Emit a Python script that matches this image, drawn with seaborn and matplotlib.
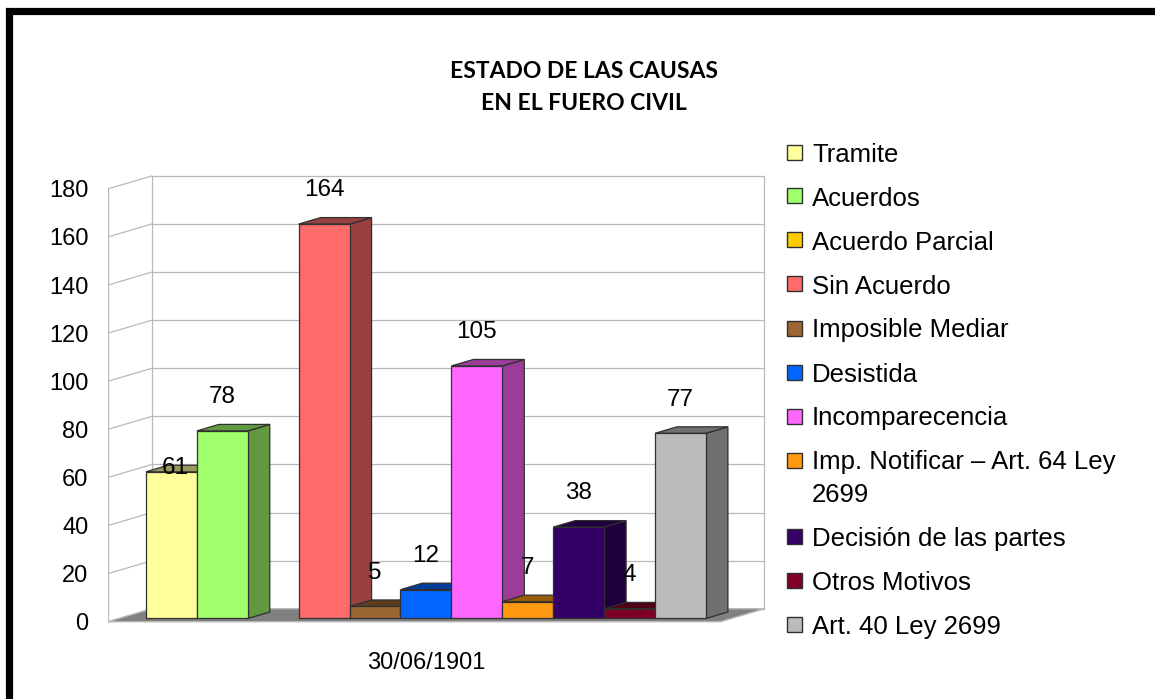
import matplotlib
matplotlib.use("Agg")
import matplotlib.pyplot as plt
from matplotlib.patches import Polygon, Rectangle
import matplotlib.colors as mcolors
import numpy as np
import seaborn as sns

##--- data
categories = ["Tramite", "Acuerdos", "Acuerdo Parcial", "Sin Acuerdo", "Imposible Mediar",
              "Desistida", "Incomparecencia", "Imp. Notificar \u2013 Art. 64 Ley\n2699",
              "Decisión de las partes", "Otros Motivos", "Art. 40 Ley 2699"]
values = [61, 78, 0, 164, 5, 12, 105, 7, 38, 4, 77]
colors = ["#FFFF99", "#A0FF6A", "#FFCC00", "#FF6B6B", "#9C6633", "#0066FF",
          "#FF66FF", "#FF9A10", "#330066", "#800025", "#BBBBBB"]
yticks = list(range(0, 181, 20))
date_label = "30/06/1901"
title_lines = ["ESTADO DE LAS CAUSAS", "EN EL FUERO CIVIL"]
##---

W, H = 1155, 699
sns.set_theme(style="white")
plt.rcParams["font.family"] = ["Liberation Sans", "DejaVu Sans"]
plt.rcParams["text.color"] = "black"

fig = plt.figure(figsize=(W / 100, H / 100), dpi=100)
ax = fig.add_axes([0.09333, 0.1083, 0.57515, 0.6606])

# depth of one bar (data units) and the box around the bars
DX, DY = 0.432, 2.70
XL, XR = -1.03, 11.0
grid_c = "#B8B8B8"
edge_c = "#303030"

def shade(c, f=0.6):
    r, g, b = mcolors.to_rgb(c)
    return (r * f, g * f, b * f)

# front faces (drawn first so ax.patches holds only the bars)
sns.barplot(x=categories, y=values, hue=categories, palette=colors, width=1.0,
            legend=False, edgecolor=edge_c, linewidth=0.9, saturation=1, ax=ax, zorder=3)
for p in ax.patches:
    if p.get_height() == 0:
        p.set_linewidth(0)

# floor
fx0, fy0 = -0.5 * DX, -0.5 * DY
bx0, by0 = 1.5 * DX, 1.5 * DY
floor = Polygon([(XL + fx0, fy0), (XR + fx0, fy0), (XR + bx0, by0), (XL + bx0, by0)],
                closed=True, facecolor="#808080", edgecolor=grid_c, lw=1, zorder=0.5)
ax.add_patch(floor)

# walls: gridlines on left wall and back wall
for t in yticks:
    ax.plot([XL + fx0, XL + bx0], [t + fy0, t + by0], color=grid_c, lw=0.9, zorder=0.4)
    ax.plot([XL + bx0, XR + bx0], [t + by0, t + by0], color=grid_c, lw=0.9, zorder=0.4)
top = yticks[-1]
ax.plot([XL + fx0, XL + fx0], [fy0, top + fy0], color=grid_c, lw=0.9, zorder=0.4)
ax.plot([XL + bx0, XL + bx0], [by0, top + by0], color=grid_c, lw=0.9, zorder=0.4)
ax.plot([XR + bx0, XR + bx0], [by0, top + by0], color=grid_c, lw=0.9, zorder=0.4)

# side and top faces
for i, v in enumerate(values):
    if v == 0:
        continue
    c = shade(colors[i])
    side = Polygon([(i + 0.5, 0), (i + 0.5 + DX, DY), (i + 0.5 + DX, v + DY), (i + 0.5, v)],
                   closed=True, facecolor=c, edgecolor=edge_c, lw=0.9, zorder=1)
    topf = Polygon([(i - 0.5, v), (i + 0.5, v), (i + 0.5 + DX, v + DY), (i - 0.5 + DX, v + DY)],
                   closed=True, facecolor=c, edgecolor=edge_c, lw=0.9, zorder=2)
    ax.add_patch(side)
    ax.add_patch(topf)
    lift = 1.5 if i == 0 else 14
    ax.text(i + (0.08 if i == 0 else 0), v + lift, str(v), ha="center", va="center",
            fontsize=17.5, color="black", zorder=5)

ax.set_xlim(-1.25, 11.8)
ax.set_ylim(-2, 190)
ax.set_yticks([t + fy0 for t in yticks], [str(t) for t in yticks])
ax.set_xticks([5], [date_label])
ax.tick_params(axis="y", length=0, pad=14, labelsize=17, colors="black")
ax.tick_params(axis="x", length=0, pad=21, labelsize=17, colors="black")
ax.set_xlabel("")
ax.set_ylabel("")
for s in ax.spines.values():
    s.set_visible(False)
ax.set_facecolor("none")

# legend / title helpers in pixel terms
def fx(x):
    return x / W

def fy(y):
    return 1 - y / H

# title, two centred lines
for k, line in enumerate(title_lines):
    fig.text(fx(584), fy(72 + 32 * k), line, ha="center", va="center", fontsize=16.5,
             color="black", fontweight="bold", family=["Lato", "DejaVu Sans"])

# legend
y = 152
for name, c in zip(categories, colors):
    fig.patches.append(Rectangle((fx(787), fy(y + 7.5)), 15 / W, 15 / H, transform=fig.transFigure,
                                 facecolor=c, edgecolor=edge_c, lw=1))
    lines = name.split("\n")
    for k, line in enumerate(lines):
        fig.text(fx(812), fy(y + 9.5), line, ha="left", va="baseline", fontsize=18.5, color="black")
        if k < len(lines) - 1:
            y += 32.5
    y += 44

# outer frame (right and bottom edges fall outside the picture)
fig.patches.append(Rectangle((fx(8.5), -0.2), 1.5, 1.2 - 10.5 / H, transform=fig.transFigure,
                             facecolor="none", edgecolor="black", lw=5.2))

fig.savefig("out.png", dpi=100, facecolor="white")
